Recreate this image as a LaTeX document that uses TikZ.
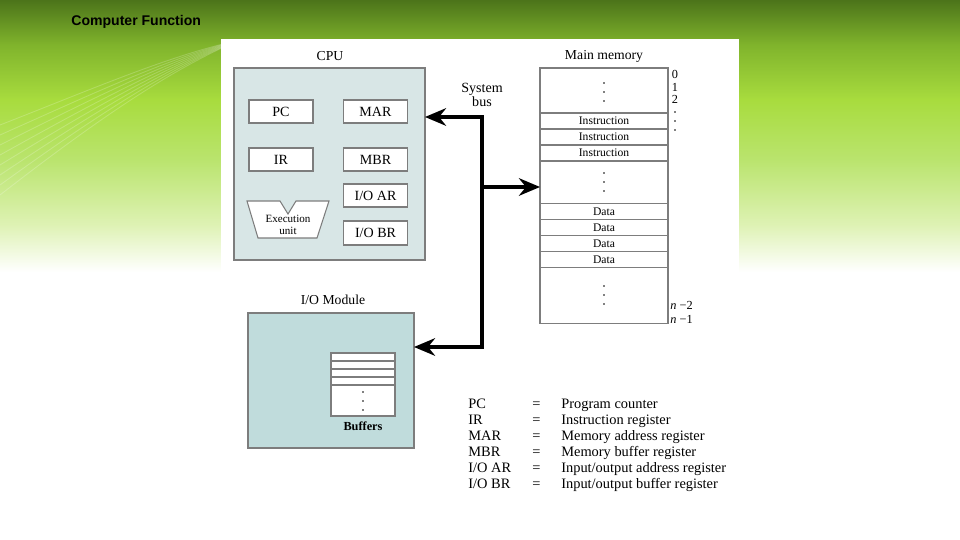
\documentclass[tikz,border=0pt]{standalone}
\usepackage{fontspec}
\setmainfont{Liberation Serif}
\setsansfont{Liberation Sans}
\usetikzlibrary{positioning,arrows.meta}

\definecolor{cpufill}{RGB}{216,230,230}
\definecolor{iofill}{RGB}{192,220,220}
\definecolor{boxline}{RGB}{125,125,125}
\definecolor{bgtop}{RGB}{76,116,26}
\definecolor{bgmid}{RGB}{128,180,44}
\definecolor{bglime}{RGB}{168,220,62}
\definecolor{bgpale}{RGB}{186,228,110}
\definecolor{bgfade}{RGB}{222,242,180}

\begin{document}
\begin{tikzpicture}[
    x=0.02cm, y=-0.02cm,
    every node/.style={font=\fontsize{8}{9}\selectfont},
    unitbox/.style={draw=boxline, line width=0.6pt, inner sep=0pt, outer sep=0pt},
    reg/.style={unitbox, fill=white, minimum width=1.28cm, minimum height=0.46cm},
    cell/.style={unitbox, fill=white, minimum width=2.56cm, minimum height=0.32cm,
                 font=\fontsize{6.6}{7}\selectfont},
    buf/.style={unitbox, fill=white, minimum width=1.28cm, minimum height=0.16cm},
    caption/.style={font=\fontsize{7.8}{9}\selectfont},
    addr/.style={font=\fontsize{7}{8}\selectfont, inner sep=0pt},
    bus/.style={line width=2.3pt, line join=miter},
    >={Stealth[length=12pt,width=10pt,inset=4pt]},
]
\useasboundingbox (0,0) rectangle (960,540);

% Slide background
\shade[top color=bgtop, bottom color=bgmid] (0,0) rectangle (960,45);
\shade[top color=bgmid, bottom color=bglime] (0,45) rectangle (960,100);
\shade[top color=bglime, bottom color=bgpale] (0,100) rectangle (960,160);
\shade[top color=bgpale, bottom color=bgfade] (0,160) rectangle (960,225);
\shade[top color=bgfade, bottom color=white] (0,225) rectangle (960,272);
\foreach \i in {0,...,7}
  \draw[white, opacity=0.2, line width=0.5pt]
    (0,125+\i*10) .. controls (90,90+\i*5) and (170,55+\i*2) .. (240,40);
\fill[white] (221,39) rectangle (739,540);

\node[anchor=west, inner sep=0pt, font=\sffamily\bfseries\fontsize{8}{9}\selectfont]
    (title) at (71,22) {Computer Function};

% CPU
\node[caption] (cpulabel) at (330,56) {CPU};
\node[unitbox, fill=cpufill, minimum width=3.82cm, minimum height=3.84cm]
    (cpu) at (329.5,164) {};
\node[reg] (pc)  at (281,111.5)   {PC};
\node[reg] (mar) at (375.5,111.5) {MAR};
\node[reg] (ir)  at (281,159.5)   {IR};
\node[reg] (mbr) at (375.5,159.5) {MBR};
\node[reg] (ioar) at (375.5,195.5) {I/O AR};
\node[reg, minimum height=0.48cm] (iobr) at (375.5,233) {I/O BR};
\draw[unitbox, fill=white] (247,201) -- (280,201) -- (288,214) -- (296,201)
    -- (329,201) -- (317,238) -- (258,238) -- cycle;
\node[font=\fontsize{6.3}{6.8}\selectfont, align=center] (exec) at (288,225)
    {Execution\\unit};

% Main memory
\node[caption] (memlabel) at (604,56) {Main memory};
\node[cell, minimum height=0.9cm, anchor=north] (mtop) at (604,68) {};
\node[cell, below=0pt of mtop] (ins1) {Instruction};
\node[cell, below=0pt of ins1] (ins2) {Instruction};
\node[cell, below=0pt of ins2] (ins3) {Instruction};
\node[cell, minimum height=0.86cm, below=0pt of ins3] (mdots) {};
\node[cell, below=0pt of mdots] (dat1) {Data};
\node[cell, below=0pt of dat1] (dat2) {Data};
\node[cell, below=0pt of dat2] (dat3) {Data};
\node[cell, below=0pt of dat3] (dat4) {Data};
\node[cell, minimum height=1.12cm, below=0pt of dat4] (mbot) {};
\foreach \y in {83,92,101,173,182,191,286,295,304}
  \fill (604,\y) circle (0.55pt);

% Addresses
\node[addr] (a0) at (675,74) {0};
\node[addr] (a1) at (675,87) {1};
\node[addr] (a2) at (675,99) {2};
\foreach \y in {112,121,130}
  \fill (675,\y) circle (0.55pt);
\node[addr, anchor=west] (an2) at (670,305) {\textit{n} −2};
\node[addr, anchor=west] (an1) at (670,319) {\textit{n} −1};

% I/O module
\node[caption] (iolabel) at (333,300) {I/O Module};
\node[unitbox, fill=iofill, minimum width=3.32cm, minimum height=2.7cm]
    (iomod) at (331,380.5) {};
\node[buf, anchor=north] (buf1) at (363,353) {};
\node[buf, below=0pt of buf1] (buf2) {};
\node[buf, below=0pt of buf2] (buf3) {};
\node[buf, below=0pt of buf3] (buf4) {};
\node[buf, minimum height=0.62cm, below=0pt of buf4] (bufrest) {};
\foreach \y in {392,401,410}
  \fill (363,\y) circle (0.55pt);
\node[font=\bfseries\fontsize{7}{8}\selectfont, below=0pt of bufrest] (buflabel) {Buffers};

% System bus
\node[align=center, font=\fontsize{8}{8.2}\selectfont] (buslabel) at (482,95)
    {System\\bus};
\coordinate (bustop) at (482,117);
\coordinate (busmid) at (482,187);
\coordinate (busbot) at (482,347);
\draw[bus, <->] (cpu.east |- bustop) -- (bustop) -- (busbot) -- (iomod.east |- busbot);
\draw[bus, ->] (busmid) -- (mdots.west |- busmid);

% Legend
\node[anchor=north west, inner sep=0pt, font=\fontsize{8.2}{9.07}\selectfont]
    (legend) at (468,397) {%
  \begin{tabular}{@{}p{1.28cm}@{}p{0.58cm}@{}l@{}}
    PC & = & Program counter\\
    IR & = & Instruction register\\
    MAR & = & Memory address register\\
    MBR & = & Memory buffer register\\
    I/O AR & = & Input/output address register\\
    I/O BR & = & Input/output buffer register
  \end{tabular}};
\end{tikzpicture}
\end{document}
